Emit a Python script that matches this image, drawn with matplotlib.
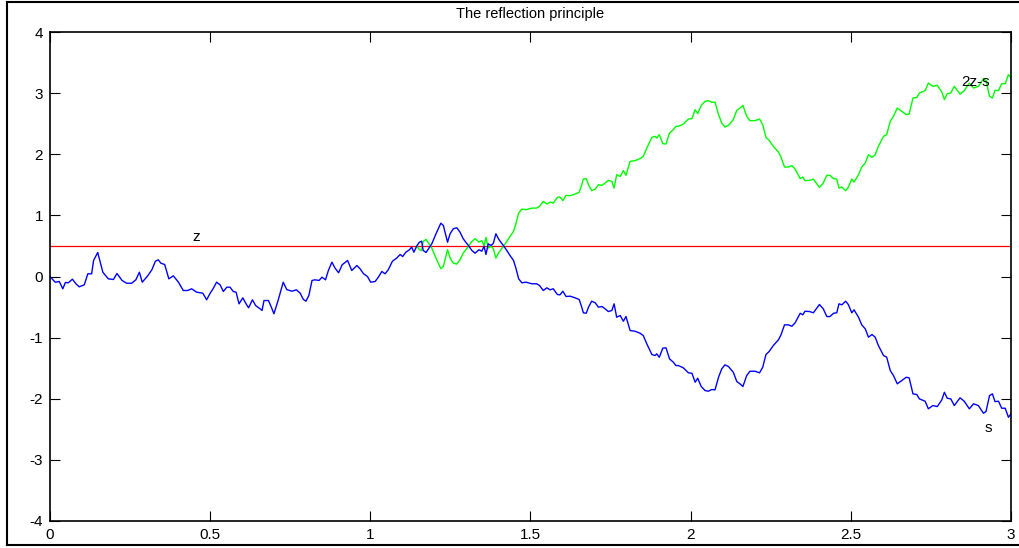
import matplotlib
matplotlib.use("Agg")
import matplotlib.pyplot as plt
from matplotlib.lines import Line2D
import numpy as np

# path s(t)
t = [0.000, 0.016, 0.029, 0.040, 0.048, 0.057, 0.070, 0.081, 0.091, 0.107,
     0.118, 0.130, 0.136, 0.149, 0.165, 0.182, 0.198, 0.209, 0.225, 0.239,
     0.255, 0.268, 0.279, 0.288, 0.305, 0.318, 0.329, 0.338, 0.346, 0.358,
     0.371, 0.385, 0.401, 0.416, 0.430, 0.442, 0.458, 0.477, 0.489, 0.500,
     0.509, 0.520, 0.531, 0.541, 0.552, 0.562, 0.572, 0.581, 0.590, 0.602,
     0.612, 0.620, 0.632, 0.642, 0.656, 0.662, 0.668, 0.682, 0.691, 0.699,
     0.712, 0.728, 0.739, 0.755, 0.769, 0.781, 0.791, 0.799, 0.808, 0.818,
     0.827, 0.840, 0.849, 0.860, 0.869, 0.880, 0.890, 0.901, 0.912, 0.929,
     0.942, 0.958, 0.968, 0.979, 0.991, 1.001, 1.015, 1.025, 1.036, 1.046,
     1.056, 1.069, 1.082, 1.093, 1.101, 1.111, 1.122, 1.129, 1.136, 1.145,
     1.153, 1.160, 1.165, 1.174, 1.192, 1.205, 1.220, 1.228, 1.241, 1.249,
     1.259, 1.270, 1.280, 1.290, 1.306, 1.317, 1.327, 1.339, 1.348, 1.355,
     1.361, 1.368, 1.377, 1.384, 1.392, 1.400, 1.405, 1.413, 1.426, 1.436,
     1.447, 1.455, 1.463, 1.473, 1.486, 1.504, 1.519, 1.528, 1.540, 1.551,
     1.561, 1.571, 1.584, 1.592, 1.601, 1.611, 1.624, 1.639, 1.652, 1.660,
     1.665, 1.674, 1.681, 1.691, 1.702, 1.712, 1.723, 1.733, 1.743, 1.754,
     1.761, 1.769, 1.780, 1.790, 1.798, 1.811, 1.826, 1.842, 1.852, 1.863,
     1.879, 1.889, 1.894, 1.902, 1.913, 1.923, 1.934, 1.946, 1.954, 1.962,
     1.977, 1.993, 2.004, 2.014, 2.022, 2.033, 2.045, 2.055, 2.066, 2.076,
     2.087, 2.097, 2.107, 2.118, 2.133, 2.144, 2.154, 2.163, 2.175, 2.185,
     2.201, 2.215, 2.225, 2.235, 2.245, 2.258, 2.274, 2.282, 2.293, 2.305,
     2.316, 2.326, 2.342, 2.350, 2.357, 2.371, 2.383, 2.402, 2.414, 2.425,
     2.435, 2.446, 2.456, 2.463, 2.472, 2.484, 2.492, 2.503, 2.510, 2.524,
     2.534, 2.545, 2.555, 2.566, 2.576, 2.586, 2.602, 2.612, 2.623, 2.633,
     2.645, 2.659, 2.673, 2.682, 2.694, 2.706, 2.714, 2.732, 2.742, 2.756,
     2.770, 2.784, 2.792, 2.801, 2.812, 2.823, 2.841, 2.854, 2.870, 2.883,
     2.898, 2.914, 2.922, 2.933, 2.942, 2.950, 2.961, 2.971, 2.982, 2.992,
     3.000]
s = [0.000, -0.093, -0.082, -0.201, -0.098, -0.103, -0.044, -0.119, -0.169, -0.136,
     0.044, 0.044, 0.262, 0.393, 0.070, -0.038, -0.049, 0.049, -0.065, -0.110,
     -0.110, -0.054, 0.070, -0.093, 0.011, 0.110, 0.250, 0.273, 0.218, 0.196,
     -0.038, 0.011, -0.093, -0.229, -0.229, -0.201, -0.257, -0.273, -0.381, -0.273,
     -0.201, -0.093, -0.136, -0.245, -0.175, -0.175, -0.245, -0.257, -0.447, -0.349,
     -0.447, -0.512, -0.381, -0.475, -0.529, -0.556, -0.393, -0.393, -0.502, -0.610,
     -0.393, -0.093, -0.213, -0.241, -0.218, -0.273, -0.376, -0.404, -0.311, -0.065,
     -0.054, -0.065, -0.011, -0.054, 0.098, 0.234, 0.136, 0.061, 0.191, 0.262,
     0.098, 0.180, 0.126, 0.044, 0.000, -0.093, -0.082, -0.011, 0.082, 0.044,
     0.110, 0.250, 0.300, 0.360, 0.327, 0.398, 0.437, 0.480, 0.398, 0.500,
     0.561, 0.578, 0.426, 0.393, 0.536, 0.699, 0.872, 0.835, 0.561, 0.699,
     0.781, 0.797, 0.725, 0.617, 0.507, 0.426, 0.381, 0.437, 0.414, 0.496,
     0.360, 0.535, 0.507, 0.545, 0.699, 0.617, 0.578, 0.524, 0.426, 0.344,
     0.262, 0.126, -0.038, -0.103, -0.093, -0.119, -0.119, -0.147, -0.229, -0.185,
     -0.218, -0.201, -0.295, -0.300, -0.241, -0.327, -0.322, -0.349, -0.376, -0.502,
     -0.594, -0.601, -0.502, -0.404, -0.430, -0.502, -0.491, -0.529, -0.573, -0.556,
     -0.447, -0.666, -0.638, -0.732, -0.655, -0.884, -0.895, -0.928, -0.966, -1.101,
     -1.277, -1.293, -1.265, -1.321, -1.173, -1.167, -1.347, -1.403, -1.457, -1.457,
     -1.494, -1.576, -1.583, -1.730, -1.664, -1.800, -1.866, -1.877, -1.849, -1.854,
     -1.648, -1.511, -1.445, -1.473, -1.566, -1.718, -1.756, -1.800, -1.620, -1.550,
     -1.550, -1.576, -1.484, -1.277, -1.227, -1.129, -1.036, -0.954, -0.791, -0.791,
     -0.813, -0.758, -0.601, -0.627, -0.568, -0.573, -0.594, -0.458, -0.529, -0.655,
     -0.655, -0.601, -0.594, -0.447, -0.463, -0.404, -0.458, -0.594, -0.545, -0.666,
     -0.791, -0.856, -0.993, -0.949, -0.993, -1.129, -1.293, -1.321, -1.538, -1.620,
     -1.756, -1.702, -1.648, -1.658, -1.920, -1.931, -2.002, -2.041, -2.165, -2.111,
     -2.128, -2.018, -1.894, -1.992, -2.002, -2.111, -1.985, -2.041, -2.165, -2.083,
     -2.111, -2.237, -2.209, -1.948, -1.920, -2.046, -2.041, -2.155, -2.155, -2.303,
     -2.247]
z = 0.5

xticks = [0, 0.5, 1, 1.5, 2, 2.5, 3]
yticks = [-4, -3, -2, -1, 0, 1, 2, 3, 4]

plt.rcParams['font.family'] = ['Liberation Sans', 'DejaVu Sans']

t = np.array(t)
s = np.array(s)
# reflected path after the first hitting time of z
tau = np.argmax(s >= z)
refl = 2 * z - s[tau:]

fig = plt.figure(figsize=(10.2, 5.48), dpi=100)
ax = fig.add_axes([50 / 1020, 27 / 548, 961 / 1020, 489 / 548])

ax.axhline(z, color='#ff0000', lw=0.9)
ax.plot(t[tau:], refl, color='#00ff00', lw=1.0)
ax.plot(t, s, color='#0000ff', lw=1.0)

ax.text(0.456, 0.64, "z", fontsize=11, ha='center', va='center')
ax.text(2.89, 3.19, "2z-s", fontsize=11, ha='center', va='center')
ax.text(2.93, -2.48, "s", fontsize=11, ha='center', va='center')

ax.set_xlim(0, 3)
ax.set_ylim(-4, 4)
ax.set_xticks(xticks)
ax.set_xticklabels([f"{v:g}" for v in xticks])
ax.set_yticks(yticks)
ax.set_yticklabels([f"{v:g}" for v in yticks])
ax.tick_params(direction='in', length=7, width=0.8, labelsize=11,
               top=True, right=True, pad=5)
for sp in ax.spines.values():
    sp.set_linewidth(1.2)
ax.set_title("The reflection principle", fontsize=10.5, pad=10)

# outer frame of the figure
for xs, ys in [((7, 7), (2, 545)), ((7, 1020), (2, 2)), ((7, 1020), (545, 545))]:
    fig.add_artist(Line2D([x / 1020 for x in xs], [1 - y / 548 for y in ys],
                          color='black', lw=1.5, transform=fig.transFigure))

fig.savefig("out.png", dpi=100)
